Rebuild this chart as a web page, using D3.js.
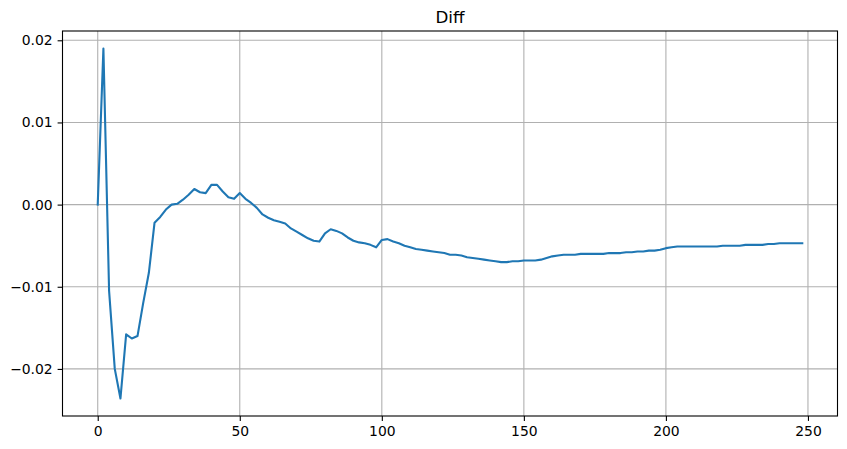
<!DOCTYPE html>
<html>
<head>
<meta charset="utf-8">
<script src="https://cdn.jsdelivr.net/npm/d3@7"></script>
<style>
  body { margin: 0; background: #fff; }
  svg { display: block; font-family: "DejaVu Sans", sans-serif; }
</style>
</head>
<body>
<svg id="chart" width="847" height="449"></svg>
<script>
const title = "Diff";
const xValues = d3.range(0, 250, 2);
const diffValues = [
  0.0000, 0.0190, -0.0105, -0.0200, -0.0236, -0.0158, -0.0163, -0.0160, -0.0120, -0.0083,
  -0.0022, -0.0015, -0.0006, 0.0000, 0.0001, 0.0006, 0.0012, 0.0019, 0.0015, 0.0014,
  0.0024, 0.0024, 0.0016, 0.0009, 0.0007, 0.0014, 0.0007, 0.0002, -0.0004, -0.0012,
  -0.0016, -0.0019, -0.0021, -0.0023, -0.0029, -0.0033, -0.0037, -0.0041, -0.0044, -0.0045,
  -0.0035, -0.0030, -0.0032, -0.0035, -0.0040, -0.0044, -0.0046, -0.0047, -0.0049, -0.0052,
  -0.0043, -0.0042, -0.0045, -0.0047, -0.0050, -0.0052, -0.0054, -0.0055, -0.0056, -0.0057,
  -0.0058, -0.0059, -0.0061, -0.0061, -0.0062, -0.0064, -0.0065, -0.0066, -0.0067, -0.0068,
  -0.0069, -0.0070, -0.0070, -0.0069, -0.0069, -0.0068, -0.0068, -0.0068, -0.0067, -0.0065,
  -0.0063, -0.0062, -0.0061, -0.0061, -0.0061, -0.0060, -0.0060, -0.0060, -0.0060, -0.0060,
  -0.0059, -0.0059, -0.0059, -0.0058, -0.0058, -0.0057, -0.0057, -0.0056, -0.0056, -0.0055,
  -0.0053, -0.0052, -0.0051, -0.0051, -0.0051, -0.0051, -0.0051, -0.0051, -0.0051, -0.0051,
  -0.0050, -0.0050, -0.0050, -0.0050, -0.0049, -0.0049, -0.0049, -0.0049, -0.0048, -0.0048,
  -0.0047, -0.0047, -0.0047, -0.0047, -0.0047
];
const xTicks = [0, 50, 100, 150, 200, 250];
const yTicks = [0.02, 0.01, 0.0, -0.01, -0.02];
const yTickLabels = ["0.02", "0.01", "0.00", "\u22120.01", "\u22120.02"];

const data = xValues.map((x, i) => ({ x: x, y: diffValues[i] }));

const mLeft = 62.5, mTop = 31, plotW = 775, plotH = 385;
const svg = d3.select("#chart");

const xMin = d3.min(xValues), xMax = d3.max(xValues);
const xPad = (xMax - xMin) * 0.05;
const yMin = d3.min(diffValues), yMax = d3.max(diffValues);
const yPad = (yMax - yMin) * 0.05;

const x = d3.scaleLinear().domain([xMin - xPad, xMax + xPad]).range([mLeft, mLeft + plotW]);
const y = d3.scaleLinear().domain([yMin - yPad, yMax + yPad]).range([mTop + plotH, mTop]);

const g = svg.append("g");

// grid
g.selectAll(".vgrid").data(xTicks).enter().append("line")
  .attr("x1", d => x(d)).attr("x2", d => x(d))
  .attr("y1", mTop).attr("y2", mTop + plotH)
  .attr("stroke", "#b0b0b0").attr("stroke-width", 1.1);
g.selectAll(".hgrid").data(yTicks).enter().append("line")
  .attr("x1", mLeft).attr("x2", mLeft + plotW)
  .attr("y1", d => y(d)).attr("y2", d => y(d))
  .attr("stroke", "#b0b0b0").attr("stroke-width", 1.1);

// line
const line = d3.line().x(d => x(d.x)).y(d => y(d.y));
g.append("path").datum(data)
  .attr("d", line)
  .attr("fill", "none")
  .attr("stroke", "#1f77b4")
  .attr("stroke-width", 2.1)
  .attr("stroke-linejoin", "round")
  .attr("stroke-linecap", "square");

// axes
const xAxis = d3.axisBottom(x).tickValues(xTicks).tickSize(4.9).tickPadding(4.9).tickFormat(d3.format("d"));
const yAxis = d3.axisLeft(y).tickValues(yTicks).tickSize(4.9).tickPadding(4.9)
  .tickFormat((d, i) => yTickLabels[i]);

const gx = svg.append("g").attr("transform", `translate(0,${mTop + plotH})`).call(xAxis);
const gy = svg.append("g").attr("transform", `translate(${mLeft},0)`).call(yAxis);
[gx, gy].forEach(a => {
  a.select(".domain").remove();
  a.selectAll(".tick line").attr("stroke", "#000").attr("stroke-width", 1.1);
  a.selectAll(".tick text").attr("fill", "#000").style("font-size", "13.9px").style("font-family", "DejaVu Sans, sans-serif");
});

// frame
svg.append("rect")
  .attr("x", mLeft).attr("y", mTop).attr("width", plotW).attr("height", plotH)
  .attr("fill", "none").attr("stroke", "#000").attr("stroke-width", 1.1);

// title
svg.append("text")
  .attr("x", mLeft + plotW / 2).attr("y", mTop - 8.3)
  .attr("text-anchor", "middle")
  .style("font-size", "16.7px")
  .attr("fill", "#000")
  .text(title);
</script>
</body>
</html>
